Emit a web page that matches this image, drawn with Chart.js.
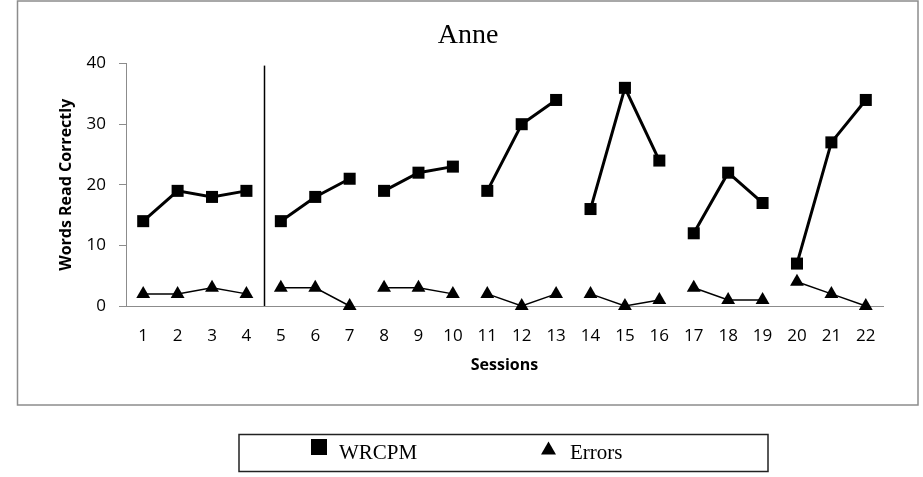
<!DOCTYPE html>
<html>
<head>
<meta charset="utf-8">
<script src="https://cdn.jsdelivr.net/npm/chart.js@4/dist/chart.umd.min.js"></script>
<style>
  html, body { margin: 0; padding: 0; background: #ffffff; }
  canvas { display: block; }
</style>
</head>
<body>
<canvas id="c" width="923" height="477"></canvas>
<script>
// ---- data ----
const sessions = ['1','2','3','4','5','6','7','8','9','10','11','12','13','14','15','16','17','18','19','20','21','22'];
const wrcpm  = [14, 19, 18, 19, 14, 18, 21, 19, 22, 23, 19, 30, 34, 16, 36, 24, 12, 22, 17, 7, 27, 34];
const errors = [2, 2, 3, 2, 3, 3, 0, 3, 3, 2, 2, 0, 2, 2, 0, 1, 3, 1, 1, 4, 2, 0];
// sessions that start a new (unconnected) segment
const segmentStarts = ['5', '8', '11', '14', '17', '20'];
// phase-change line is drawn between these two sessions
const phaseChangeBetween = ['4', '5'];
const yTicks = [0, 10, 20, 30, 40];
const titleText = 'Anne';
const yTitle = 'Words Read Correctly';
const xTitle = 'Sessions';
const seriesNames = ['WRCPM', 'Errors'];

const sansFont = "'Open Sans', 'DejaVu Sans', sans-serif";
const serifFont = "'Liberation Serif', 'Times New Roman', serif";

const breakSeg = ctx => segmentStarts.includes(sessions[ctx.p1DataIndex]);

const decorPlugin = {
  id: 'decor',
  beforeDatasetsDraw(chart) {
    const { ctx, scales: { x, y } } = chart;
    // phase change line
    const i0 = sessions.indexOf(phaseChangeBetween[0]);
    const i1 = sessions.indexOf(phaseChangeBetween[1]);
    const px = Math.round((x.getPixelForValue(i0) + x.getPixelForValue(i1)) / 2) + 0.5;
    ctx.save();
    ctx.strokeStyle = '#000';
    ctx.lineWidth = 1.5;
    ctx.beginPath();
    ctx.moveTo(px, y.getPixelForValue(40) + 2);
    ctx.lineTo(px, y.getPixelForValue(0));
    ctx.stroke();
    ctx.restore();
  },
  afterDraw(chart) {
    const { ctx } = chart;
    ctx.save();
    // outer frame of the chart
    ctx.strokeStyle = '#8c8c8c';
    ctx.lineWidth = 1.5;
    ctx.strokeRect(17.5, 1, 900.5, 404);
    // legend box
    ctx.strokeStyle = '#222';
    ctx.lineWidth = 1.5;
    ctx.strokeRect(239, 434.5, 529, 37);
    // legend markers
    ctx.fillStyle = '#000';
    ctx.fillRect(311, 439, 16, 16);
    ctx.beginPath();
    ctx.moveTo(548.5, 441.5);
    ctx.lineTo(556, 454.5);
    ctx.lineTo(541, 454.5);
    ctx.closePath();
    ctx.fill();
    // legend text
    ctx.font = "21px " + serifFont;
    ctx.textBaseline = 'middle';
    ctx.textAlign = 'left';
    ctx.fillText(seriesNames[0], 339, 453);
    ctx.fillText(seriesNames[1], 570, 453);
    ctx.restore();
  }
};

new Chart(document.getElementById('c'), {
  type: 'line',
  data: {
    labels: sessions,
    datasets: [
      {
        label: seriesNames[0],
        data: wrcpm,
        borderColor: '#000',
        backgroundColor: '#000',
        borderWidth: 3,
        pointStyle: 'rect',
        pointRadius: 8.5,
        pointBorderWidth: 0,
        pointBackgroundColor: '#000',
        tension: 0,
        clip: false,
        segment: { borderColor: c => breakSeg(c) ? 'rgba(0,0,0,0)' : '#000' }
      },
      {
        label: seriesNames[1],
        data: errors,
        borderColor: '#000',
        backgroundColor: '#000',
        borderWidth: 1.5,
        pointStyle: 'triangle',
        pointRadius: 8,
        pointBorderWidth: 0,
        pointBackgroundColor: '#000',
        tension: 0,
        clip: false,
        segment: { borderColor: c => breakSeg(c) ? 'rgba(0,0,0,0)' : '#000' }
      }
    ]
  },
  options: {
    responsive: false,
    animation: false,
    events: [],
    layout: { padding: { left: 18, right: 5, top: 0, bottom: 96 } },
    plugins: {
      legend: { display: false },
      tooltip: { enabled: false },
      title: {
        display: true,
        text: titleText,
        color: '#000',
        font: { family: serifFont, size: 28, weight: 'normal', lineHeight: 1.2 },
        padding: { top: 19, bottom: 11 }
      }
    },
    scales: {
      x: {
        type: 'category',
        offset: true,
        grid: { display: false },
        border: { display: true, color: '#8c8c8c', width: 1 },
        ticks: {
          color: '#000',
          font: { family: sansFont, size: 17 },
          padding: 12,
          autoSkip: false,
          maxRotation: 0
        },
        title: {
          display: true,
          text: xTitle,
          color: '#000',
          font: { family: sansFont, size: 16, weight: 'bold' },
          padding: { top: 4, bottom: 6 }
        },
        afterFit: s => { s.height = 75; }
      },
      y: {
        min: 0,
        max: 40,
        afterBuildTicks: s => { s.ticks = yTicks.map(v => ({ value: v })); },
        grid: { display: true, drawOnChartArea: false, drawTicks: true, tickLength: 7, color: '#8c8c8c' },
        border: { display: true, color: '#8c8c8c', width: 1 },
        ticks: {
          color: '#000',
          font: { family: sansFont, size: 17 },
          padding: 13
        },
        title: {
          display: true,
          text: yTitle,
          color: '#000',
          font: { family: sansFont, size: 16, weight: 'bold' },
          padding: { top: 39, bottom: 0 }
        },
        afterFit: s => { s.width = 108; }
      },
      y2: {
        position: 'right',
        display: true,
        grid: { display: false, drawTicks: false },
        border: { display: false },
        ticks: { display: false },
        afterFit: s => { s.width = 35; }
      }
    }
  },
  plugins: [decorPlugin]
});
</script>
</body>
</html>
